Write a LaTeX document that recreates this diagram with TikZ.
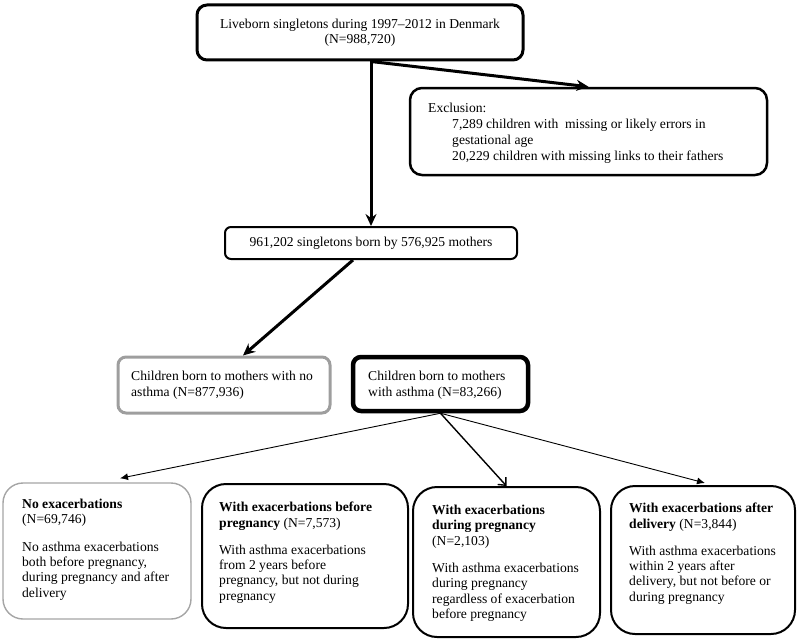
\documentclass[tikz,border=0pt]{standalone}
\usepackage{fontspec}
\setmainfont{Liberation Serif}
\usetikzlibrary{arrows.meta,calc}
\definecolor{boxgray}{RGB}{158,158,158}
\definecolor{lightgray}{RGB}{165,165,165}
\begin{document}
\begin{tikzpicture}[x=1pt,y=-1pt,
  every node/.style={font=\fontsize{13.6}{15.3}\selectfont},
  box/.style={draw, rounded corners=#1, inner sep=0pt},
  box/.default=10pt,
  txt/.style={anchor=north west, inner sep=0pt, align=left},
  txtw/.style={anchor=north west, inner sep=0pt, align=left, font=\fontsize{13.6}{16.2}\selectfont},
  thickarrow/.style={line width=3pt, -{Stealth[length=12pt,width=11pt,inset=4pt]}},
  midarrow/.style={line width=1.4pt, -{Straight Barb[length=6pt,width=11pt]}},
  thinarrow/.style={line width=0.9pt, -{Latex[length=8pt,width=7pt]}}
]
\useasboundingbox (0,0) rectangle (800,642);

% top level
\node[box=10pt, line width=3pt, minimum width=326pt, minimum height=55pt, align=center] (top) at (360,32.5)
  {Liveborn singletons during 1997--2012 in Denmark\\(N=988,720)};

% exclusion
\node[box=12pt, line width=2.5pt, minimum width=357pt, minimum height=87pt] (excl) at (588.5,131.5) {};
\node[txtw] (exclt) at (428,102.5)
  {Exclusion:\\
   \hspace*{24pt}7,289 children with\ \ missing or likely errors in\\
   \hspace*{24pt}gestational age\\
   \hspace*{24pt}20,229 children with missing links to their fathers};

% middle
\node[box=6pt, line width=2pt, minimum width=292pt, minimum height=32pt] (mid) at (371,243)
  {961,202 singletons born by 576,925 mothers};

% mothers with / without asthma
\node[box=8pt, draw=boxgray, line width=3pt, minimum width=212pt, minimum height=56pt] (noasthma) at (224,385) {};
\node[txtw] (noasthmat) at (131,370.5) {Children born to mothers with no\\asthma (N=877,936)};

\node[box=8pt, line width=4.5pt, minimum width=175pt, minimum height=54pt] (asthma) at (440.5,384) {};
\node[txtw] (asthmat) at (368,370.5) {Children born to mothers\\with asthma (N=83,266)};

% bottom boxes
\node[box=20pt, draw=lightgray, line width=1.4pt, minimum width=188pt, minimum height=136pt] (A) at (97,551) {};
\node[txt] (At) at (22,499)
  {\textbf{No exacerbations}\\(N=69,746)\\[12pt]
   No asthma exacerbations\\both before pregnancy,\\during pregnancy and after\\delivery};

\node[box=24pt, line width=2pt, minimum width=206pt, minimum height=144pt] (B) at (305,556) {};
\node[txt] (Bt) at (219,502)
  {\textbf{With exacerbations before}\\\textbf{pregnancy} (N=7,573)\\[12pt]
   With asthma exacerbations\\from 2 years before\\pregnancy, but not during\\pregnancy};

\node[box=24pt, line width=2pt, minimum width=187pt, minimum height=150pt] (C) at (506.5,562) {};
\node[txt] (Ct) at (432,505)
  {\textbf{With exacerbations}\\\textbf{during pregnancy}\\(N=2,103)\\[12pt]
   With asthma exacerbations\\during pregnancy\\regardless of exacerbation\\before pregnancy};

\node[box=24pt, line width=2pt, minimum width=184pt, minimum height=148pt] (D) at (703,560) {};
\node[txt] (Dt) at (629,503)
  {\textbf{With exacerbations after}\\\textbf{delivery} (N=3,844)\\[12pt]
   With asthma exacerbations\\within 2 years after\\delivery, but not before or\\during pregnancy};

% connectors
\coordinate (split) at (mid.north |- top.south);
\draw[thickarrow] (split) -- (excl.north);
\draw[thickarrow] (split) -- (mid.north);
\coordinate (m1) at ($(mid.south)+(-18,0)$);
\coordinate (n1) at ($(noasthma.north)+(19,0)$);
\draw[thickarrow] (m1) -- (n1);
\coordinate (a1) at ($(A.north)+(23,-4)$);
\draw[thinarrow] (asthma.south) -- (a1);
\draw[midarrow] (asthma.south) -- (C.north);
\coordinate (d1) at ($(D.north)+(2,-2)$);
\draw[thinarrow] (asthma.south) -- (d1);
\end{tikzpicture}
\end{document}
